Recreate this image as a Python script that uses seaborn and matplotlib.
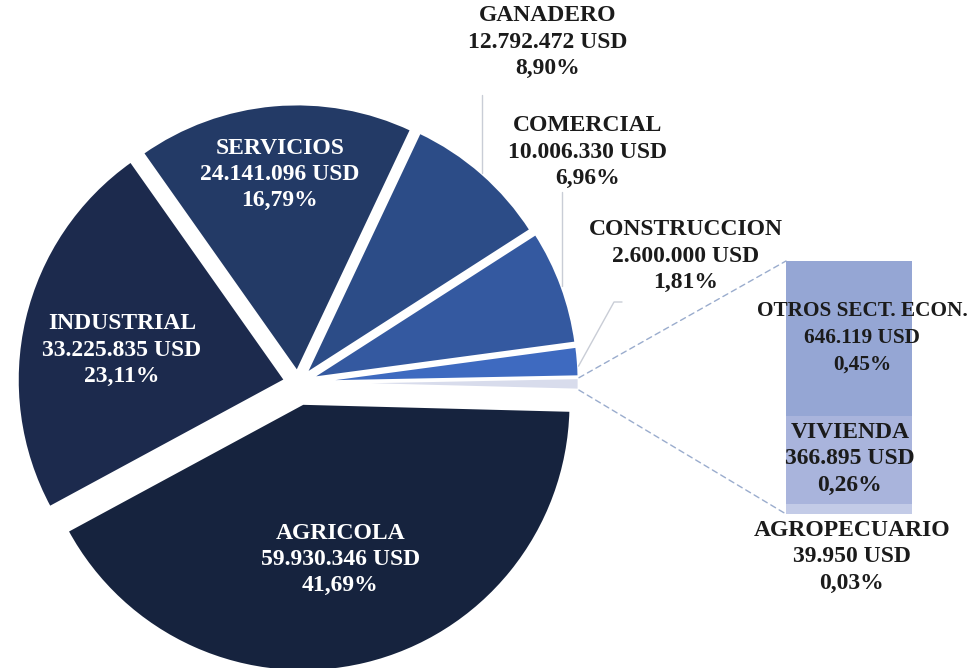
import numpy as np
import matplotlib
matplotlib.use("Agg")
import matplotlib.pyplot as plt
from matplotlib.patches import ConnectionPatch
import seaborn as sns

# ==============================
# Datos: sectores economicos (USD)
# ==============================
sectores = ["AGRICOLA", "INDUSTRIAL", "SERVICIOS", "GANADERO", "COMERCIAL", "CONSTRUCCION"]
montos = [59930346, 33225835, 24141096, 12792472, 10006330, 2600000]

otros_sectores = ["AGROPECUARIO", "VIVIENDA", "OTROS SECT. ECON."]
otros_montos = [39950, 366895, 646119]

colores_pie = ["#16233e", "#1c2a4d", "#233a66", "#2c4c87", "#3459a0", "#3e6ac0", "#d8dcec"]
colores_barra = ["#c3cbe7", "#a9b4dc", "#95a6d4"]

W, H = 976, 668
total = sum(montos) + sum(otros_montos)
FS = 17
LS = 1.32


def fmt_usd(v):
    return f"{v:,}".replace(",", ".") + " USD"


def fmt_pct(v):
    return f"{100 * v / total:.2f}".replace(".", ",") + "%"


def etiqueta(nombre, v):
    return f"{nombre}\n{fmt_usd(v)}\n{fmt_pct(v)}"


def px(x, y):
    # coordenadas de pixel (origen arriba-izquierda) -> datos
    return x, H - y


sns.set_theme(style="white")
plt.rcParams["font.family"] = ["Liberation Serif", "DejaVu Serif"]
plt.rcParams["font.weight"] = "bold"

fig = plt.figure(figsize=(W / 100, H / 100), dpi=100)
ax = fig.add_axes([0, 0, 1, 1])
ax.set_zorder(2)

valores_pie = montos + [sum(otros_montos)]
explode = [21, 13, 11, 11, 13, 13, 13]  # separacion en pixeles
centro = px(298, 383)
radio = 268
start = -1.5

wedges, _ = ax.pie(valores_pie, colors=colores_pie, startangle=start, counterclock=False,
                   explode=explode, center=centro, radius=radio,
                   wedgeprops=dict(edgecolor="white", linewidth=2))
ax.set_xlim(0, W)
ax.set_ylim(0, H)
ax.set_aspect("equal")
ax.axis("off")


def punto(i, ang, frac):
    w = wedges[i]
    cx, cy = w.center
    a = np.deg2rad(ang)
    return cx + frac * w.r * np.cos(a), cy + frac * w.r * np.sin(a)


def mid(i):
    w = wedges[i]
    return (w.theta1 + w.theta2) / 2


# Etiquetas dentro del pastel (fraccion del radio, ajuste de angulo)
pos_lbl = {0: (0.6, 0), 1: (0.62, 2.8), 2: (0.74, 0)}
for i, (f, da) in pos_lbl.items():
    x, y = punto(i, mid(i) + da, f)
    ax.text(x, y, etiqueta(sectores[i], montos[i]),
            ha="center", va="center", color="white", fontsize=FS, fontweight="bold",
            linespacing=LS)

# Etiquetas externas
txt_color = "#1b1b1b"
lead = "#c9cdd6"
ext = {3: (548, 42), 4: (588, 152), 5: (686, 256)}
for i, (lx, ly) in ext.items():
    ax.text(*px(lx, ly), etiqueta(sectores[i], montos[i]),
            ha="center", va="center", color=txt_color, fontsize=FS, fontweight="bold",
            linespacing=LS)

# lineas guia
x3, y3 = punto(3, mid(3), 1.0)
ax.plot([x3, x3], [y3, px(0, 95)[1]], color=lead, lw=1)
x4, y4 = punto(4, mid(4), 1.0)
ax.plot([x4, x4], [y4, px(0, 192)[1]], color=lead, lw=1)
x5, y5 = punto(5, mid(5) - 1, 1.0)
ax.plot([x5, px(614, 0)[0], px(622, 0)[0]], [y5, px(0, 302)[1], px(0, 302)[1]], color=lead, lw=1)

# ==============================
# Barra de "otros"
# ==============================
ax2 = fig.add_axes([786 / W, (H - 514) / H, 126 / W, 253 / H])
ax2.set_zorder(1)
acum = np.cumsum(otros_montos)
for top, c in zip(acum[::-1], colores_barra[::-1]):
    sns.barplot(x=["otros"], y=[top], color=c, width=1.0, saturation=1, ax=ax2, linewidth=0)
ax2.set_xlim(-0.5, 0.5)
ax2.set_ylim(0, acum[-1])
ax2.axis("off")

# etiquetas de la barra
pos_barra = [(852, 557, FS), (850, 459, FS), (862, 338, 15.3)]
for nombre, v, (lx, ly, fs) in zip(otros_sectores, otros_montos, pos_barra):
    ax.text(*px(lx, ly), etiqueta(nombre, v),
            ha="center", va="center", color=txt_color, fontsize=fs, fontweight="bold",
            linespacing=LS * FS / fs)

# conectores punteados
w_o = wedges[6]
for ang, yb in [(w_o.theta2, acum[-1]), (w_o.theta1, 0)]:
    xa, ya = punto(6, ang, 1.0)
    con = ConnectionPatch(xyA=(xa, ya), coordsA=ax.transData, xyB=(-0.5, yb), coordsB=ax2.transData,
                          color="#9aaccd", lw=1, linestyle=(0, (4, 3)))
    con.set_zorder(3)
    fig.add_artist(con)

fig.savefig("out.png", dpi=100)
